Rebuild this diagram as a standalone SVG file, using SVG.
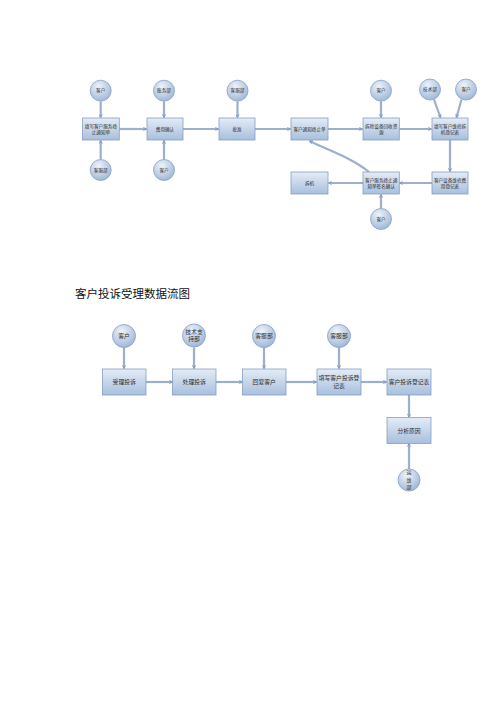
<svg xmlns="http://www.w3.org/2000/svg" width="500" height="707" viewBox="0 0 500 707">
<defs>
<linearGradient id="bg" x1="0" y1="0" x2="0" y2="1">
<stop offset="0" stop-color="#e4ecf6"/>
<stop offset="1" stop-color="#a8bfdd"/>
</linearGradient>
<radialGradient id="cg" cx="0.4" cy="0.3" r="0.75">
<stop offset="0" stop-color="#eef3fa"/>
<stop offset="1" stop-color="#9cb4d6"/>
</radialGradient>
<marker id="ah" viewBox="0 0 10 10" refX="9" refY="5" markerWidth="4" markerHeight="4" orient="auto" markerUnits="userSpaceOnUse">
<path d="M1,1 L9,5 L1,9" fill="none" stroke="#7d96bb" stroke-width="2"/>
</marker>
</defs>
<style>
.b{fill:url(#bg);stroke:#869fc4;stroke-width:0.8}
.c{fill:url(#cg);stroke:#86a0c6;stroke-width:0.8}
.t{font-family:"Noto Sans CJK SC","Noto Sans",sans-serif;fill:#2b2b2b;text-anchor:middle}
.s{font-size:4.6px}
.m{font-size:5.8px}
.v{font-size:5px}
.k{fill:none;stroke:#9bb0cd;stroke-width:2.2;marker-end:url(#ah)}
.title{font-family:"Noto Sans CJK SC",sans-serif;font-size:11.5px;fill:#111}
</style>
<rect width="500" height="707" fill="#ffffff"/>

<g id="connectors">
<path class="k" d="M100.7,101.5 V117.5"/>
<path class="k" d="M100.7,159.5 V140.5"/>
<path class="k" d="M119.3,129 H146.5"/>
<path class="k" d="M164,101.5 V117.5"/>
<path class="k" d="M164,159.5 V140.5"/>
<path class="k" d="M183,129 H218.5"/>
<path class="k" d="M237.5,101.5 V117.5"/>
<path class="k" d="M255,129 H290.5"/>
<path class="k" d="M328,129 H362.5"/>
<path class="k" d="M381,101.5 V117.5"/>
<path class="k" d="M399.3,129 H431.5"/>
<path class="k" d="M434,99.5 L440.5,117.5"/>
<path class="k" d="M461.5,99.5 L456.5,117.5"/>
<path class="k" d="M450,140 V171.5"/>
<path class="k" d="M432,183 H399.5"/>
<path class="k" d="M363,183 H328.5"/>
<path class="k" d="M381,208.5 V194.5"/>
<path class="k" d="M369,172 C352,158 330,151 309.5,141"/>

<path class="k" d="M124,347.5 V368.5"/>
<path class="k" d="M194,347.5 V368.5"/>
<path class="k" d="M264,347.5 V368.5"/>
<path class="k" d="M339,347.5 V368.5"/>
<path class="k" d="M146,382 H172.5"/>
<path class="k" d="M216,382 H242.5"/>
<path class="k" d="M286,382 H316.5"/>
<path class="k" d="M361,382 H386.5"/>
<path class="k" d="M409,395 V417"/>
<path class="k" d="M409,469 V443.5"/>
</g>

<g id="n1"><circle class="c" cx="100.7" cy="90.7" r="10.5"/><text class="t s" x="100.7" y="92.3">客户</text></g>
<g id="n2"><rect class="b" x="82.5" y="118" width="36.8" height="22"/><text class="t s" x="100.9" y="127.5">填写客户服务终</text><text class="t s" x="100.9" y="134">止通知单</text></g>
<g id="n3"><circle class="c" cx="100.7" cy="170" r="10.5"/><text class="t s" x="100.7" y="171.6">客服部</text></g>
<g id="n4"><circle class="c" cx="164" cy="90.7" r="10.5"/><text class="t s" x="164" y="92.3">账务部</text></g>
<g id="n5"><rect class="b" x="147" y="118" width="36" height="22"/><text class="t s" x="165" y="130.6">费用确认</text></g>
<g id="n6"><circle class="c" cx="164" cy="170" r="10.5"/><text class="t s" x="164" y="171.6">客户</text></g>
<g id="n7"><circle class="c" cx="237.5" cy="90.7" r="10.5"/><text class="t s" x="237.5" y="92.3">客服部</text></g>
<g id="n8"><rect class="b" x="219" y="118" width="36" height="22"/><text class="t s" x="237" y="130.6">批准</text></g>
<g id="n9"><rect class="b" x="291" y="118" width="37" height="22"/><text class="t s" x="309.5" y="130.6">客户通知终止单</text></g>
<g id="n10"><circle class="c" cx="381" cy="90.7" r="10.5"/><text class="t s" x="381" y="92.3">客户</text></g>
<g id="n11"><rect class="b" x="363" y="118" width="36.3" height="22"/><text class="t s" x="381.2" y="127.5">拆除设备回收资</text><text class="t s" x="381.2" y="134">源</text></g>
<g id="n12"><circle class="c" cx="430" cy="89.5" r="10.5"/><text class="t s" x="430" y="91.1">技术部</text></g>
<g id="n13"><circle class="c" cx="466" cy="89.5" r="10.5"/><text class="t s" x="466" y="91.1">客户</text></g>
<g id="n14"><rect class="b" x="432" y="118" width="36" height="22"/><text class="t s" x="450" y="127.5">填写客户维修拆</text><text class="t s" x="450" y="134">机登记表</text></g>
<g id="n15"><rect class="b" x="432" y="172" width="36" height="22"/><text class="t s" x="450" y="181.5">客户设备维修费</text><text class="t s" x="450" y="188">用登记表</text></g>
<g id="n16"><rect class="b" x="363" y="172" width="36.3" height="22"/><text class="t s" x="381.2" y="181.5">客户服务终止通</text><text class="t s" x="381.2" y="188">知单签名确认</text></g>
<g id="n17"><rect class="b" x="291" y="172" width="37" height="22"/><text class="t s" x="309.5" y="184.6">拆机</text></g>
<g id="n18"><circle class="c" cx="381" cy="219" r="10.5"/><text class="t s" x="381" y="220.6">客户</text></g>

<text class="title" x="75" y="298">客户投诉受理数据流图</text>

<g id="m1"><circle class="c" cx="124" cy="336" r="11.5"/><text class="t m" x="124" y="338">客户</text></g>
<g id="m2"><rect class="b" x="102.5" y="369" width="43.5" height="26"/><text class="t m" x="124.2" y="384">受理投诉</text></g>
<g id="m3"><circle class="c" cx="194" cy="335.5" r="11.5"/><text class="t m" x="194" y="333.5">技术支</text><text class="t m" x="194" y="341">持部</text></g>
<g id="m4"><rect class="b" x="172.5" y="369" width="43.5" height="26"/><text class="t m" x="194.2" y="384">处理投诉</text></g>
<g id="m5"><circle class="c" cx="264" cy="336" r="11.5"/><text class="t m" x="264" y="338">客服部</text></g>
<g id="m6"><rect class="b" x="242.5" y="369" width="43.5" height="26"/><text class="t m" x="264.2" y="384">回复客户</text></g>
<g id="m7"><circle class="c" cx="339" cy="336" r="11.5"/><text class="t m" x="339" y="338">客服部</text></g>
<g id="m8"><rect class="b" x="317" y="369" width="44" height="26"/><text class="t m" x="339" y="380">填写客户投诉登</text><text class="t m" x="339" y="388">记表</text></g>
<g id="m9"><rect class="b" x="387" y="369" width="44" height="26"/><text class="t m" x="409" y="384">客户投诉登记表</text></g>
<g id="m10"><rect class="b" x="387" y="417.5" width="44" height="26"/><text class="t m" x="409" y="432.5">分析原因</text></g>
<g id="m11"><circle class="c" cx="409" cy="480" r="11"/><text class="t v" x="409" y="474.3">运</text><text class="t v" x="409" y="481.6">维</text><text class="t v" x="409" y="488.9">部</text></g>
</svg>
